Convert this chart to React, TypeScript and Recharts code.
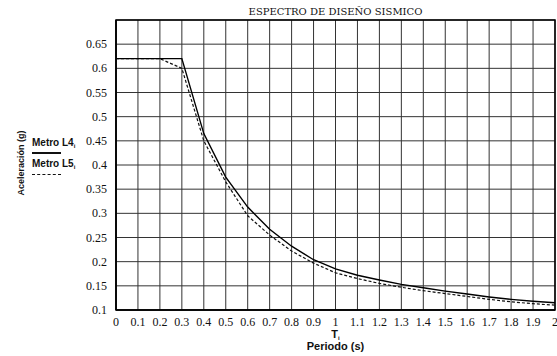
import React from "react";
import { LineChart, Line, XAxis, YAxis, CartesianGrid, ReferenceArea } from "recharts";

const periods = [0, 0.1, 0.2, 0.3, 0.4, 0.5, 0.6, 0.7, 0.8, 0.9, 1.0, 1.1, 1.2, 1.3, 1.4, 1.5, 1.6, 1.7, 1.8, 1.9, 2.0];
const metroL4 = [0.62, 0.62, 0.62, 0.62, 0.465, 0.375, 0.313, 0.267, 0.232, 0.204, 0.185, 0.172, 0.162, 0.153, 0.146, 0.139, 0.133, 0.127, 0.122, 0.118, 0.115];
const metroL5 = [0.62, 0.62, 0.62, 0.60, 0.45, 0.365, 0.295, 0.255, 0.222, 0.197, 0.177, 0.165, 0.155, 0.147, 0.140, 0.134, 0.128, 0.122, 0.117, 0.113, 0.110];
const xTicks = [0, 0.1, 0.2, 0.3, 0.4, 0.5, 0.6, 0.7, 0.8, 0.9, 1, 1.1, 1.2, 1.3, 1.4, 1.5, 1.6, 1.7, 1.8, 1.9, 2];
const yTicks = [0.1, 0.15, 0.2, 0.25, 0.3, 0.35, 0.4, 0.45, 0.5, 0.55, 0.6, 0.65, 0.7];
const yLabels = ["0.1", "0.15", "0.2", "0.25", "0.3", "0.35", "0.4", "0.45", "0.5", "0.55", "0.6", "0.65", ""];
const title = "ESPECTRO DE DISEÑO SISMICO";

const data = periods.map((t, i) => ({ t, l4: metroL4[i], l5: metroL5[i] }));

const serif = "'Liberation Serif', 'Times New Roman', serif";
const sans = "'Liberation Sans', Arial, sans-serif";

const XTick = (props: any) => {
  const { x, y, payload } = props;
  const label = String(Math.round(payload.value * 10) / 10);
  return (
    <text x={x} y={y + 10} textAnchor="middle" fontFamily={serif} fontSize={12} fill="#111">
      {label}
    </text>
  );
};

const YTick = (props: any) => {
  const { x, y, payload } = props;
  const i = yTicks.findIndex((v) => Math.abs(v - payload.value) < 1e-6);
  const label = i >= 0 ? yLabels[i] : "";
  return (
    <text x={x + 1} y={y + 4} textAnchor="end" fontFamily={serif} fontSize={12} fill="#111">
      {label}
    </text>
  );
};

export default function App() {
  return (
    <div style={{ position: "absolute", left: 0, top: 0, width: 557, height: 356, background: "#fff" }}>
      <LineChart width={557} height={356} data={data} margin={{ top: 20, right: 2, bottom: 16, left: 0 }}>
        <CartesianGrid stroke="#333" strokeWidth={1} horizontalValues={yTicks} verticalValues={xTicks} />
        <XAxis
          dataKey="t"
          type="number"
          domain={[0, 2]}
          ticks={xTicks}
          interval={0}
          height={30}
          tickLine={false}
          axisLine={{ stroke: "#000", strokeWidth: 1.5 }}
          tick={<XTick />}
          tickMargin={0}
        />
        <YAxis
          type="number"
          domain={[0.1, 0.7]}
          ticks={yTicks}
          interval={0}
          width={116}
          tickLine={false}
          axisLine={{ stroke: "#000", strokeWidth: 1.5 }}
          tick={<YTick />}
          tickMargin={4}
        />
        <ReferenceArea x1={0} x2={2} y1={0.1} y2={0.7} fill="none" stroke="#000" strokeWidth={1.5} />
        <Line dataKey="l5" stroke="#111" strokeWidth={1.2} strokeDasharray="3 2" dot={false} isAnimationActive={false} type="linear" />
        <Line dataKey="l4" stroke="#000" strokeWidth={1.4} dot={false} isAnimationActive={false} type="linear" />
      </LineChart>
      <div style={{ position: "absolute", left: 116, width: 439, top: 5, textAlign: "center", fontFamily: "'DejaVu Serif', serif", fontSize: 10, color: "#111", lineHeight: "14px" }}>
        {title}
      </div>
      <div style={{ position: "absolute", left: 21, top: 163, transform: "translate(-50%, -50%) rotate(-90deg)", fontFamily: sans, fontWeight: "bold", fontSize: 9, color: "#111", whiteSpace: "nowrap", lineHeight: "10px" }}>
        Aceleración (g)
      </div>
      <div style={{ position: "absolute", left: 32, top: 137, fontFamily: sans, fontWeight: "bold", fontSize: 10, color: "#111", lineHeight: "12px" }}>
        <div style={{ whiteSpace: "nowrap" }}>Metro L4<sub style={{ fontSize: 6, verticalAlign: "-2px", lineHeight: 0 }}>i</sub></div>
        <div style={{ width: 29, borderTop: "2px solid #111", marginTop: 3, marginBottom: 4 }} />
        <div style={{ whiteSpace: "nowrap" }}>Metro L5<sub style={{ fontSize: 6, verticalAlign: "-2px", lineHeight: 0 }}>i</sub></div>
        <div style={{ width: 29, borderTop: "1.5px dashed #111", marginTop: 4 }} />
      </div>
      <div style={{ position: "absolute", left: 116, width: 439, top: 328, textAlign: "center", fontFamily: sans, fontWeight: "bold", fontSize: 11, color: "#111", lineHeight: "12px" }}>
        <div>T<sub style={{ fontSize: 6, verticalAlign: "-2px", lineHeight: 0 }}>i</sub></div>
        <div>Periodo (s)</div>
      </div>
    </div>
  );
}
